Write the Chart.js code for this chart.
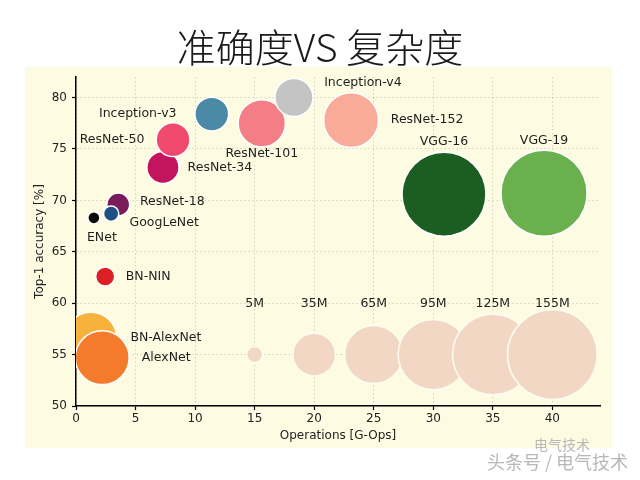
<!DOCTYPE html>
<html>
<head>
<meta charset="utf-8">
<script src="https://cdn.jsdelivr.net/npm/chart.js@4.4.1/dist/chart.umd.min.js"></script>
<style>
  html, body { margin: 0; padding: 0; background: #fff; }
</style>
</head>
<body>
<canvas id="chart" width="640" height="480"></canvas>
<script>
// Networks: operations (G-Ops), top-1 accuracy (%), parameters (millions)
const networks = ['BN-AlexNet', 'AlexNet', 'BN-NIN', 'ResNet-18', 'ENet', 'GoogLeNet', 'ResNet-34',
                  'ResNet-50', 'Inception-v3', 'ResNet-101', 'Inception-v4', 'ResNet-152', 'VGG-16', 'VGG-19'];
const gOps    = [1.25, 2.2, 2.45, 3.55, 1.5, 2.95, 7.3, 8.15, 11.4, 15.6, 18.3, 23.1, 30.9, 39.3];
const top1    = [56.6, 54.7, 62.6, 69.6, 68.3, 68.7, 73.2, 75.9, 78.4, 77.5, 80.0, 77.8, 70.6, 70.7];
const paramsM = [52, 56, 7, 10, 2.8, 4.5, 20, 22, 22, 43, 28, 58, 136, 143];

// Size legend bubbles
const refLabels = ['5M', '35M', '65M', '95M', '125M', '155M'];
const refOps    = [15, 20, 25, 30, 35, 40];
const refTop1   = [55, 55, 55, 55, 55, 55];
const refParams = [5, 35, 65, 95, 125, 155];

const xTicks = [0, 5, 10, 15, 20, 25, 30, 35, 40];
const yTicks = [50, 55, 60, 65, 70, 75, 80];

// styling
const netColors = ['#f6b23a', '#f47b2b', '#dd1f26', '#7a1b5c', '#0a0a0a', '#1f4f85', '#c3145e',
                   '#f04a6e', '#4b8aa6', '#f47e86', '#c4c4c4', '#f9ab9a', '#1c5e22', '#6ab04c'];
const refColor = '#f2d8c4';
// label offsets in px from bubble centre
const labelOffsets = [[75, 0], [64, 0], [43, 0], [54, -3], [8, 20], [53, 9], [57, 0],
                      [-61, 0], [-74, 0], [0, 30], [69, -15], [76, 0], [0, -52], [0, -52]];

const radius = p => 3.6 * Math.sqrt(p);

const decor = {
  id: 'decor',
  beforeDraw(chart) {
    const ctx = chart.ctx;
    ctx.save();
    ctx.fillStyle = '#fdfce2';
    ctx.fillRect(25, 67, 587, 381);
    ctx.restore();
  },
  afterDraw(chart) {
    const ctx = chart.ctx;
    ctx.save();
    ctx.fillStyle = '#1a1a1a';
    ctx.font = '300 39px "Noto Sans CJK SC"';
    ctx.textAlign = 'center';
    ctx.textBaseline = 'middle';
    ctx.fillText('准确度VS 复杂度', 320, 47);
    // watermark
    ctx.fillStyle = '#b8b8b8';
    ctx.font = '18px "Noto Sans CJK SC"';
    ctx.textAlign = 'right';
    ctx.fillText('头条号 / 电气技术', 628, 462);
    ctx.font = '14px "Noto Sans CJK SC"';
    ctx.textAlign = 'center';
    ctx.fillText('电气技术', 562, 445);
    ctx.restore();
  }
};

const bubbleLabels = {
  id: 'bubbleLabels',
  afterDatasetsDraw(chart) {
    const ctx = chart.ctx;
    const xs = chart.scales.x, ys = chart.scales.y;
    ctx.save();
    ctx.font = '12.5px "DejaVu Sans"';
    ctx.fillStyle = '#1e1e1e';
    ctx.textAlign = 'center';
    ctx.textBaseline = 'middle';
    networks.forEach((name, i) => {
      ctx.fillText(name,
        xs.getPixelForValue(gOps[i]) + labelOffsets[i][0],
        ys.getPixelForValue(top1[i]) + labelOffsets[i][1]);
    });
    refLabels.forEach((name, i) => {
      ctx.fillText(name, xs.getPixelForValue(refOps[i]), ys.getPixelForValue(refTop1[i]) - 51);
    });
    ctx.restore();
  }
};

const tickFont = { family: 'DejaVu Sans', size: 12 };

new Chart(document.getElementById('chart'), {
  type: 'bubble',
  data: {
    datasets: [
      {
        data: refOps.map((x, i) => ({ x: x, y: refTop1[i], r: radius(refParams[i]) })),
        backgroundColor: refColor,
        borderColor: '#fdfcf0',
        borderWidth: 1.5
      },
      {
        data: networks.map((n, i) => ({ x: gOps[i], y: top1[i], r: radius(paramsM[i]) })),
        backgroundColor: netColors,
        borderColor: '#ffffff',
        borderWidth: 1.5
      },
      {
        // white centre dots
        data: networks.map((n, i) => ({ x: gOps[i], y: top1[i], r: 1.6 })),
        backgroundColor: 'rgba(255,255,255,0.9)',
        borderWidth: 0
      }
    ]
  },
  options: {
    responsive: false,
    animation: false,
    events: [],
    layout: { autoPadding: false, padding: { left: 26, right: 40, top: 77, bottom: 34 } },
    plugins: {
      legend: { display: false },
      tooltip: { enabled: false },
      title: { display: false }
    },
    scales: {
      x: {
        type: 'linear',
        min: 0,
        max: 44,
        afterFit: s => { s.height = 40; },
        afterBuildTicks: s => { s.ticks = xTicks.map(v => ({ value: v })); },
        ticks: { font: tickFont, color: '#222', padding: 2, maxRotation: 0 },
        grid: { color: 'rgba(0,0,0,0.16)', tickColor: '#000', tickLength: 4, tickWidth: 1.2 },
        border: { display: true, color: '#000', width: 1.5, dash: [1.5, 2.5] },
        title: { display: true, text: 'Operations [G-Ops]', font: tickFont, color: '#222', padding: { top: 2, bottom: 3 } }
      },
      y: {
        type: 'linear',
        min: 50,
        max: 82,
        afterFit: s => { s.width = 50; },
        afterBuildTicks: s => { s.ticks = yTicks.map(v => ({ value: v })); },
        ticks: { font: tickFont, color: '#222', padding: 5 },
        grid: { color: 'rgba(0,0,0,0.16)', tickColor: '#000', tickLength: 4, tickWidth: 1.2 },
        border: { display: true, color: '#000', width: 1.5, dash: [1.5, 2.5] },
        title: { display: true, text: 'Top-1 accuracy [%]', font: tickFont, color: '#222', padding: { top: 7, bottom: 2 } }
      }
    }
  },
  plugins: [decor, bubbleLabels]
});
</script>
</body>
</html>
